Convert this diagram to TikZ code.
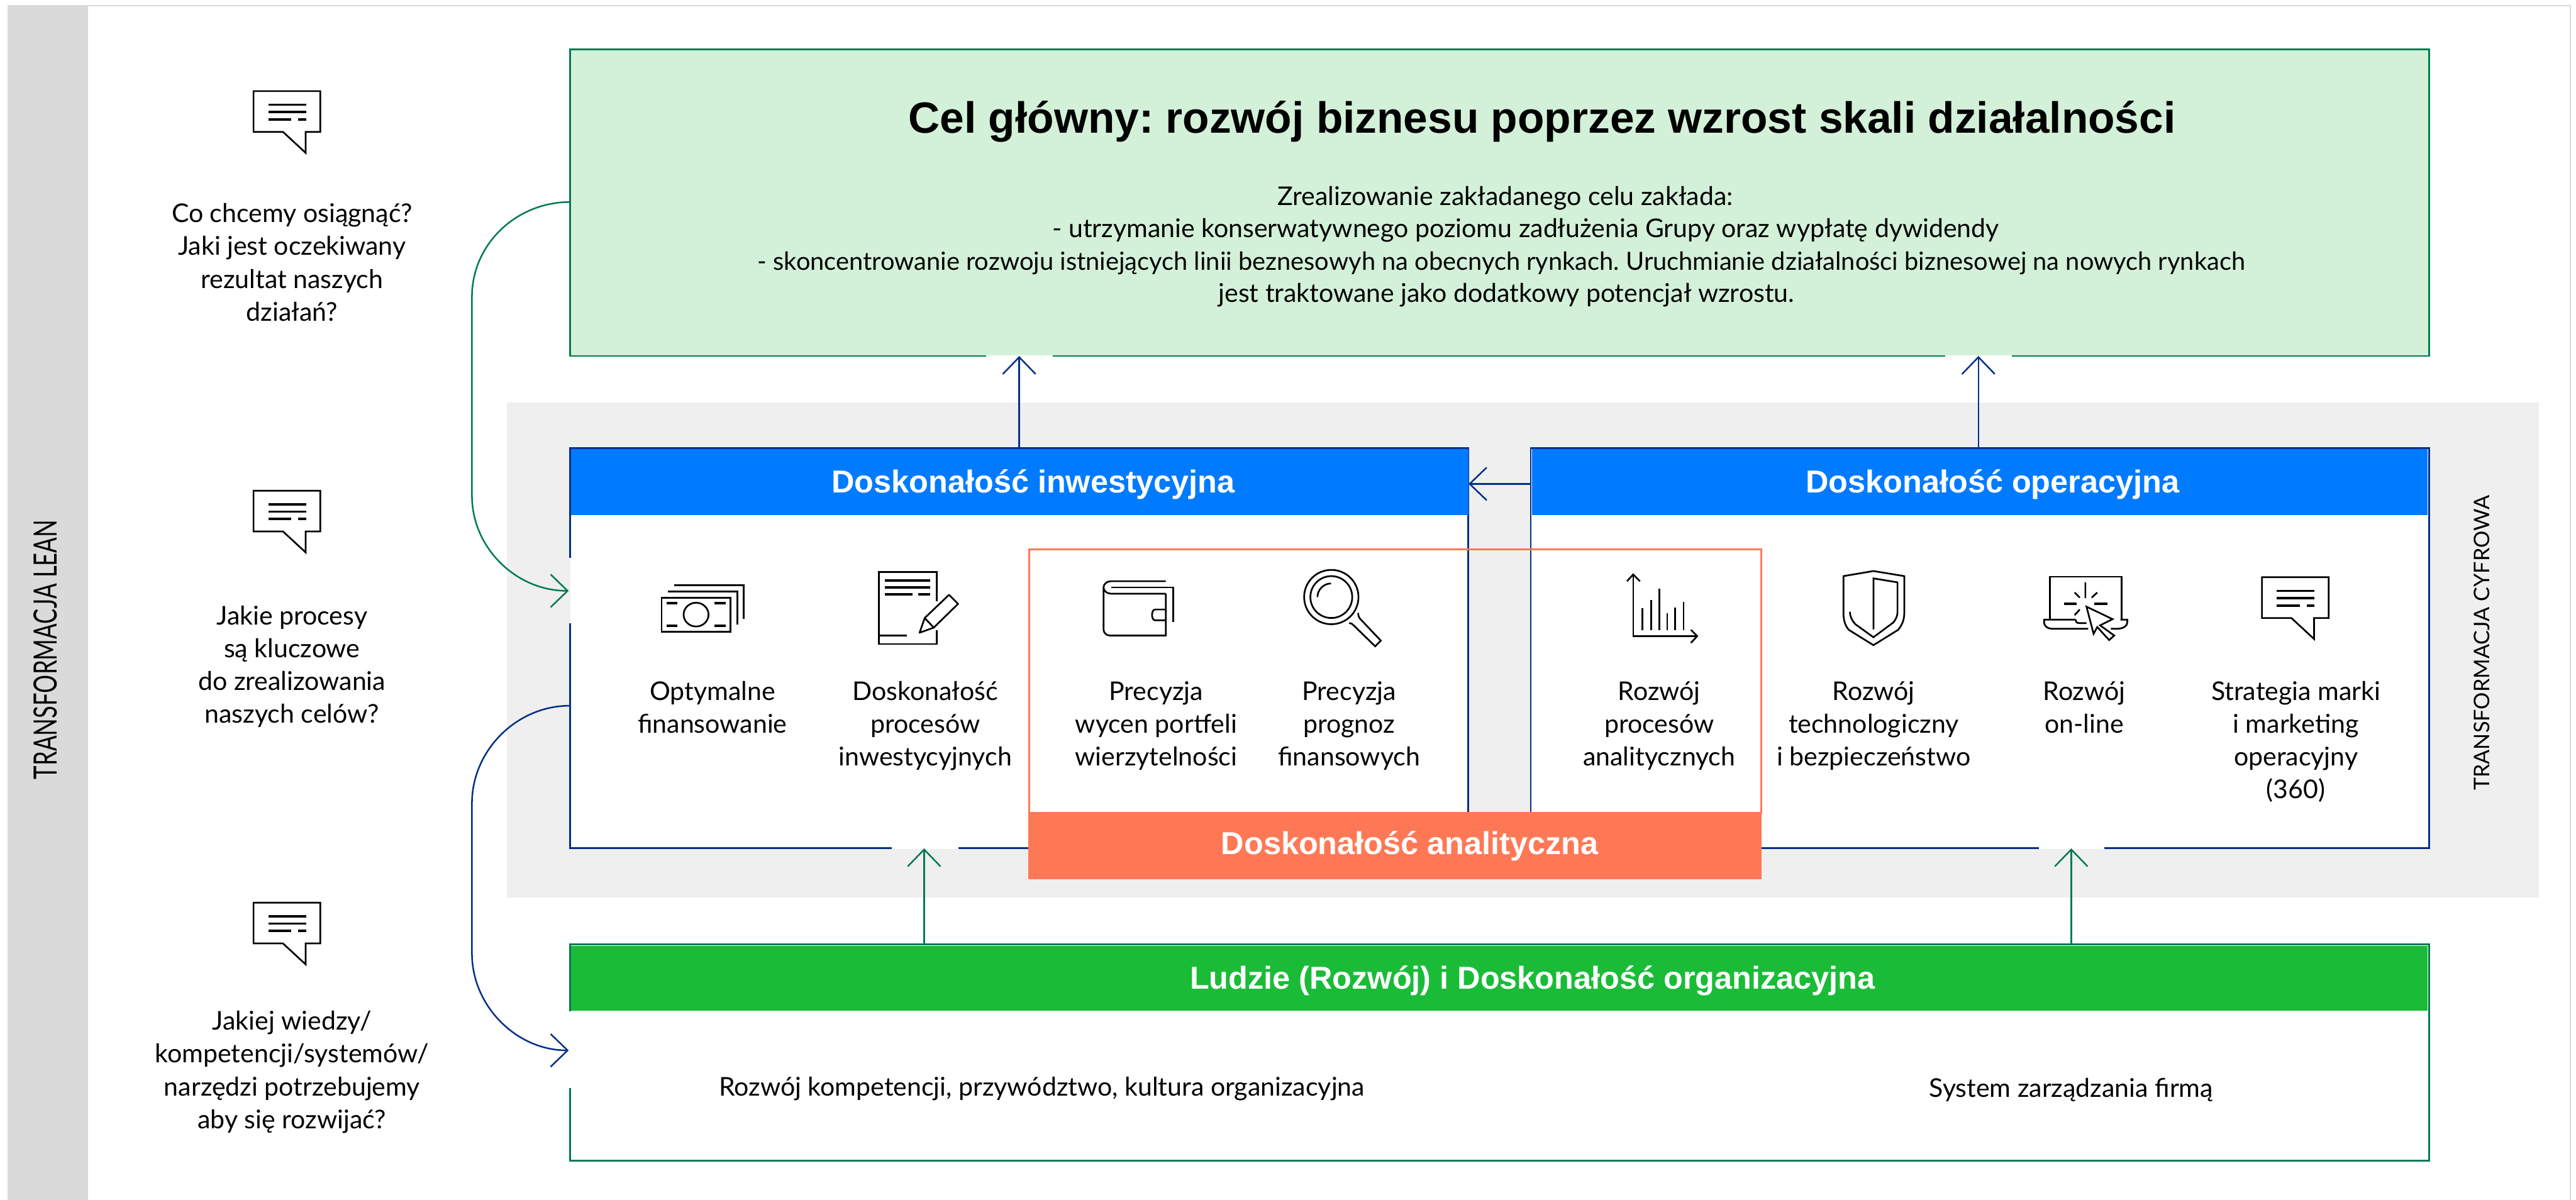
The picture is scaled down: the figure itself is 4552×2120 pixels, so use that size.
\documentclass[tikz,border=0pt]{standalone}
\usepackage{fontspec}
\setmainfont{Lato}
\newfontfamily\latof{Lato}
\newfontfamily\arialb{Liberation Sans}[BoldFont={Liberation Sans Bold}]
\usetikzlibrary{arrows.meta}
\AtBeginDocument{\frenchspacing}
\definecolor{gstroke}{HTML}{007A53}
\definecolor{bstroke}{HTML}{003087}
\definecolor{bfill}{HTML}{007BFF}
\definecolor{gfill}{HTML}{1ABC37}
\definecolor{ofill}{HTML}{FF7855}
\definecolor{lgreen}{HTML}{D3F1D8}
\definecolor{lgrey}{HTML}{EFEFEF}
\definecolor{mgrey}{HTML}{DADADA}
\tikzset{
  box/.style={rectangle,inner sep=0pt,outer sep=0pt,anchor=north west},
  lbl/.style={font=\latof\fontsize{11.4}{14.5}\selectfont,align=center,anchor=base,inner sep=0pt,outer sep=0pt,text=black},
  hdr/.style={font=\arialb\bfseries\fontsize{14}{16}\selectfont,anchor=base,inner sep=0pt,outer sep=0pt,text=white},
  blueline/.style={draw=bstroke,line width=0.8pt},
  greenline/.style={draw=gstroke,line width=0.8pt},
  barb/.style={-{Straight Barb[length=7.5pt,width=14.5pt,line width=0.7pt]},line width=0.7pt},
  barbb/.style={barb,draw=bstroke},
  barbg/.style={barb,draw=gstroke},
  ico/.style={draw=black,line width=0.75pt,fill=none,miter limit=10},
  icot/.style={draw=black,line width=1pt},
  bubble/.pic={
    \draw[ico] (0,0)--(118,0)--(118,72)--(92,72)--(92,109)--(52,72)--(0,72)--cycle;
    \draw[icot] (26,24)--(93,24) (26,37)--(93,37) (26,50)--(67,50) (79,50)--(93,50);
  }
}
\begin{document}
\begin{tikzpicture}[x=0.25pt,y=-0.25pt]
\useasboundingbox (0,0) rectangle (4552,2120);
% page frame and side band
\draw[draw=mgrey,line width=0.8pt] (13,10)--(4542,10)--(4542,2120);
\node[box,fill=mgrey,minimum width=35.75pt,minimum height=527.75pt] (lean) at (13,9) {};
\node[lbl,rotate=90,font=\latof\fontsize{14.2}{16}\selectfont,anchor=center] (leantxt) at (80,1148) {\scalebox{0.713}[1]{TRANSFORMACJA LEAN}};
% digital band
\node[box,fill=lgrey,minimum width=897.5pt,minimum height=218.75pt] (cyf) at (896,711) {};
\node[lbl,rotate=90,font=\latof\fontsize{9.5}{12}\selectfont,anchor=center] (cyftxt) at (4386,1136) {TRANSFORMACJA CYFROWA};
% main goal
\node[box,fill=lgreen,greenline,minimum width=821.25pt,minimum height=135.5pt] (cel) at (1007,87) {};
\node[hdr,text=black,font=\arialb\bfseries\fontsize{19.3}{22}\selectfont] (celt) at (2725,235) {Cel główny: rozwój biznesu poprzez wzrost skali działalności};
\node[lbl] (l1) at (2660,363) {Zrealizowanie zakładanego celu zakłada:};
\node[lbl] (l2) at (2696,420) {- utrzymanie konserwatywnego poziomu zadłużenia Grupy oraz wypłatę dywidendy};
\node[lbl,font=\latof\fontsize{11.05}{14.5}\selectfont] (l3) at (2653,477) {- skoncentrowanie rozwoju istniejących linii beznesowyh na obecnych rynkach. Uruchmianie działalności biznesowej na nowych rynkach};
\node[lbl] (l4) at (2662,534) {jest traktowane jako dodatkowy potencjał wzrostu.};
% excellence boxes
\node[box,fill=white,blueline,minimum width=396.75pt,minimum height=176.75pt] (inwb) at (1007,792) {};
\node[box,fill=white,blueline,minimum width=396.75pt,minimum height=176.75pt] (operb) at (2705,792) {};
\node[box,fill=bfill,minimum width=396.5pt,minimum height=29pt] (inwh) at (1009,794) {};
\node[box,fill=bfill,minimum width=395.75pt,minimum height=29pt] (operh) at (2707,794) {};
\node[hdr] (inwt) at (1826,871) {Doskonałość inwestycyjna};
\node[hdr] (opert) at (3521,871) {Doskonałość operacyjna};
% analytic box
\node[box,draw=ofill,line width=0.75pt,minimum width=323.25pt,minimum height=116.25pt] (anl) at (1819,971) {};
\node[box,fill=ofill,minimum width=324pt,minimum height=29.5pt] (anlh) at (1817,1436) {};
\node[hdr] (anlt) at (2491,1510) {Doskonałość analityczna};
% people box
\node[box,fill=white,greenline,minimum width=821.25pt,minimum height=95.5pt] (ludb) at (1007,1669) {};
\node[box,fill=gfill,minimum width=820.25pt,minimum height=28.75pt] (ludh) at (1009,1671) {};
\node[hdr] (ludt) at (2708,1748) {Ludzie (Rozwój) i Doskonałość organizacyjna};
\node[lbl] (r1) at (1841,1936) {Rozwój kompetencji, przywództwo, kultura organizacyjna};
\node[lbl] (r2) at (3660,1939) {System zarządzania firmą};
% gaps in the outlines
\fill[lgrey] (1004,986) rectangle (1008,1101);
\fill[white] (1008,986) rectangle (1011,1101);
\fill[white] (1004,1787) rectangle (1011,1923);
\fill[white] (1576,1495) rectangle (1694,1500);
\fill[lgrey] (1576,1500) rectangle (1694,1503);
\fill[white] (3603,1495) rectangle (3719,1500);
\fill[lgrey] (3603,1500) rectangle (3719,1503);
\fill[lgreen] (1742,625) rectangle (1860,628);
\fill[white] (1742,628) rectangle (1860,632);
\fill[lgreen] (3437,625) rectangle (3555,628);
\fill[white] (3437,628) rectangle (3555,632);
% connectors
\coordinate (xa) at (1801,0);
\coordinate (xb) at (3496,0);
\coordinate (xc) at (1633,0);
\coordinate (xd) at (3660,0);
\coordinate (ya) at (0,855);
\coordinate (tg) at (1005,1044);
\coordinate (tb) at (1005,1856);
\draw[barbb] (inwh.north -| xa) -- (cel.south -| xa);
\draw[barbb] (operh.north -| xb) -- (cel.south -| xb);
\draw[barbb] (operb.west |- ya) -- (inwh.east |- ya);
\draw[barbg] (ludb.north -| xc) -- (inwb.south -| xc);
\draw[barbg] (ludb.north -| xd) -- (operb.south -| xd);
\draw[barbg] (cel.north west) ++(0,270) .. controls (912,357) and (834,432) .. (834,524) -- (834,876) .. controls (834,968) and (912,1044) .. (tg);
\draw[barbb] (inwb.north west) ++(0,455) .. controls (912,1247) and (834,1327) .. (834,1419) -- (834,1685) .. controls (834,1777) and (912,1856) .. (tb);
% left questions
\path (448,161) pic {bubble};
\path (448,867) pic {bubble};
\path (448,1595) pic {bubble};
\node[lbl] (q1) at (516,567) {Co chcemy osiągnąć?\\Jaki jest oczekiwany\\rezultat naszych\\działań?};
\node[lbl] (q2) at (516,1278) {Jakie procesy\\są kluczowe\\do zrealizowania\\naszych celów?};
\node[lbl] (q3) at (516,1994) {Jakiej wiedzy/\\kompetencji/systemów/\\narzędzi potrzebujemy\\aby się rozwijać?};
% column labels
\node[lbl] (c1) at (1259,1295) {Optymalne\\finansowanie};
\node[lbl] (c2) at (1635,1353) {Doskonałość\\procesów\\inwestycyjnych};
\node[lbl] (c3) at (2043,1353) {Precyzja\\wycen portfeli\\wierzytelności};
\node[lbl] (c4) at (2384,1353) {Precyzja\\prognoz\\finansowych};
\node[lbl] (c5) at (2932,1353) {Rozwój\\procesów\\analitycznych};
\node[lbl] (c6) at (3311,1353) {Rozwój\\technologiczny\\i bezpieczeństwo};
\node[lbl] (c7) at (3683,1295) {Rozwój\\on-line};
\node[lbl] (c8) at (4057,1411) {Strategia marki\\i marketing\\operacyjny\\(360)};
% money icon
\draw[ico] (1169,1056) rectangle (1291,1116);
\draw[ico] (1180,1045)--(1303,1045)--(1303,1103);
\draw[ico] (1191,1034)--(1314,1034)--(1314,1093);
\draw[ico] (1230,1086) circle[x radius=22,y radius=21];
\draw[icot] (1178,1066)--(1197,1066) (1263,1066)--(1282,1066) (1178,1106)--(1197,1106) (1263,1106)--(1282,1106);
% document icon
\draw[ico] (1655,1062)--(1655,1011)--(1553,1011)--(1553,1138)--(1655,1138)--(1655,1113);
\draw[icot] (1564,1026)--(1644,1026) (1564,1038)--(1644,1038) (1564,1050)--(1612,1050) (1623,1050)--(1644,1050) (1553,1123)--(1602,1123);
\draw[ico,line join=round] (1677,1051)--(1693,1067)--(1650,1109)--(1625,1118)--(1634,1092)--cycle (1634,1092)--(1650,1109);
% wallet icon
\draw[ico] (2060,1049)--(1963,1049) .. controls (1956,1049) and (1950,1044) .. (1950,1038) .. controls (1950,1032) and (1956,1027) .. (1963,1027)--(2060,1027);
\draw[ico] (1950,1038)--(1950,1112) .. controls (1950,1118) and (1955,1123) .. (1961,1123)--(2060,1123)--(2060,1049);
\draw[ico] (1964,1038)--(2073,1038)--(2073,1099);
\draw[ico] (2060,1077)--(2041,1077) .. controls (2034,1077) and (2034,1096) .. (2041,1096)--(2060,1096);
% magnifier icon
\draw[ico] (2352.5,1055) circle[radius=48];
\draw[ico] (2352.5,1055) circle[radius=37];
\draw[ico] (2328,1055) .. controls (2328,1042) and (2339,1031) .. (2352,1031);
\draw[ico] (2400,1083) .. controls (2400,1088) and (2401,1090) .. (2403,1093)--(2440,1132)--(2430,1142)--(2392,1105) .. controls (2390,1102) and (2387,1101) .. (2384,1101);
% chart icon
\draw[ico] (2886,1017)--(2886,1124)--(2997,1124);
\draw[ico] (2875,1027)--(2886,1015)--(2898,1027) (2988,1113)--(2999,1124)--(2988,1136);
\draw[ico] (2902,1113)--(2902,1075) (2918,1113)--(2918,1060) (2932,1113)--(2932,1040) (2946,1113)--(2946,1084) (2960,1113)--(2960,1073) (2975,1113)--(2975,1064);
% shield icon
\draw[ico] (3310.5,1009)--(3365,1018)--(3365,1083) .. controls (3365,1095) and (3361,1105) .. (3354,1113)--(3310.5,1140)--(3267,1113) .. controls (3260,1105) and (3257.5,1095) .. (3257.5,1083)--(3257.5,1018)--cycle;
\draw[ico] (3310.5,1112)--(3310.5,1022)--(3353,1029)--(3353,1082) .. controls (3353,1088) and (3350,1095) .. (3345.5,1100)--(3310.5,1126)--(3278.5,1103) .. controls (3273,1097) and (3269,1090) .. (3269,1081);
% laptop icon
\draw[ico] (3622,1093)--(3622,1019)--(3749,1019)--(3749,1093);
\draw[ico] (3668,1095)--(3612,1095)--(3612,1100) .. controls (3612,1106) and (3618,1111) .. (3626,1111)--(3690,1111);
\draw[ico] (3668,1095) .. controls (3668,1099) and (3670,1101) .. (3674,1101)--(3687,1101);
\draw[ico] (3747,1095)--(3759,1095)--(3759,1100) .. controls (3759,1106) and (3752,1111) .. (3741,1111)--(3730,1111);
\draw[ico] (3685,1029)--(3685,1057) (3666,1047)--(3675,1056) (3706,1047)--(3696,1056) (3666,1087)--(3675,1077);
\draw[icot] (3647,1067)--(3670,1067) (3701,1067)--(3724,1067);
\draw[ico,fill=white] (3687,1072)--(3733,1094)--(3711,1105)--(3736,1123)--(3727,1131)--(3706,1108)--(3699.5,1120)--cycle;
% bubble icon in the last column
\path (3997,1020) pic {bubble};
\end{tikzpicture}
\end{document}
